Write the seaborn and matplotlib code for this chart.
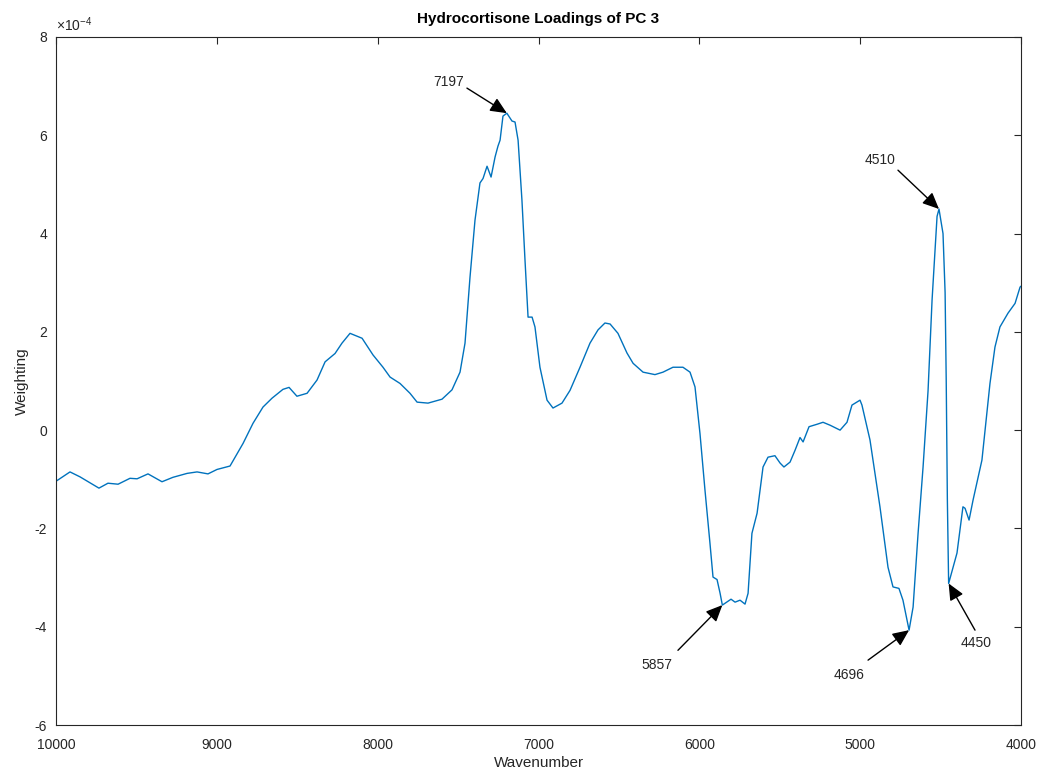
import numpy as np
import pandas as pd
import matplotlib
matplotlib.use('Agg')
import matplotlib.pyplot as plt
import seaborn as sns

# PC 3 loadings (weighting in units of 1e-4)
wavenumber = [10000, 9913, 9851, 9733, 9677, 9614, 9540, 9496, 9428, 9341,
              9273, 9185, 9123, 9055, 8999, 8918, 8837, 8775, 8713, 8657,
              8589, 8551, 8502, 8439, 8377, 8327, 8265, 8222, 8172, 8097,
              8029, 7967, 7923, 7861, 7799, 7755, 7687, 7600, 7538, 7488,
              7457, 7426, 7395, 7364, 7345, 7320, 7295, 7270, 7252, 7239,
              7221, 7197, 7165, 7146, 7127, 7103, 7084, 7065, 7040, 7022,
              6991, 6947, 6910, 6854, 6804, 6742, 6680, 6630, 6587, 6555,
              6506, 6450, 6412, 6350, 6276, 6226, 6164, 6102, 6058, 6027,
              5996, 5965, 5934, 5915, 5890, 5871, 5857, 5803, 5778, 5747,
              5716, 5697, 5673, 5641, 5604, 5573, 5530, 5498, 5474, 5436,
              5405, 5374, 5355, 5318, 5268, 5231, 5187, 5125, 5082, 5051,
              5001, 4989, 4939, 4877, 4827, 4796, 4759, 4734, 4696, 4671,
              4640, 4609, 4578, 4553, 4522, 4510, 4485, 4472, 4465, 4458,
              4450, 4398, 4361, 4348, 4323, 4298, 4243, 4193, 4162, 4131,
              4081, 4037, 4006, 4000]
weighting = [-1.04, -0.85, -0.95, -1.18, -1.08, -1.10, -0.98, -0.99, -0.89, -1.05,
             -0.96, -0.88, -0.85, -0.89, -0.80, -0.73, -0.27, 0.14, 0.47, 0.65,
             0.83, 0.87, 0.69, 0.75, 1.02, 1.39, 1.56, 1.77, 1.97, 1.87,
             1.53, 1.28, 1.08, 0.95, 0.75, 0.57, 0.55, 0.63, 0.82, 1.18,
             1.77, 3.11, 4.27, 5.03, 5.12, 5.37, 5.15, 5.56, 5.78, 5.90,
             6.39, 6.45, 6.29, 6.27, 5.90, 4.68, 3.46, 2.30, 2.30, 2.10,
             1.28, 0.61, 0.45, 0.55, 0.81, 1.28, 1.77, 2.04, 2.18, 2.16,
             1.97, 1.57, 1.36, 1.18, 1.13, 1.18, 1.28, 1.28, 1.18, 0.88,
             -0.07, -1.22, -2.30, -2.99, -3.04, -3.32, -3.56, -3.44, -3.50, -3.46,
             -3.54, -3.32, -2.10, -1.69, -0.75, -0.55, -0.52, -0.67, -0.75, -0.65,
             -0.41, -0.15, -0.24, 0.07, 0.12, 0.16, 0.10, 0.00, 0.16, 0.51,
             0.61, 0.51, -0.20, -1.56, -2.79, -3.19, -3.22, -3.46, -4.07, -3.60,
             -2.10, -0.75, 0.80, 2.65, 4.35, 4.50, 4.00, 2.80, 1.00, -1.40,
             -3.12, -2.50, -1.56, -1.59, -1.83, -1.42, -0.61, 0.95, 1.69, 2.10,
             2.38, 2.58, 2.91, 2.93]

# annotated peaks: label, peak, arrow tail, text centre
peak_labels = ['7197', '4510', '5857', '4696', '4450']
peak_x = [7197, 4510, 5857, 4696, 4450]
peak_y = [6.45, 4.50, -3.56, -4.07, -3.12]
tail_x = [7445, 4765, 6133, 4951, 4286]
tail_y = [6.96, 5.29, -4.48, -4.68, -4.07]
text_x = [7556, 4877, 6263, 5069, 4280]
text_y = [7.08, 5.49, -4.78, -4.99, -4.33]

df = pd.DataFrame({'Wavenumber': wavenumber, 'Weighting': np.array(weighting) * 1e-4})

sns.set_style('white')
plt.rcParams['font.family'] = ['Liberation Sans', 'DejaVu Sans']
plt.rcParams['mathtext.fontset'] = 'custom'
plt.rcParams['mathtext.rm'] = 'Liberation Sans'

dark = '#262626'
fig = plt.figure(figsize=(10.41, 7.74), dpi=100)
ax = fig.add_axes([0.0538, 0.0633, 0.927, 0.8889])

sns.lineplot(data=df, x='Wavenumber', y='Weighting', ax=ax, color='#0072BD',
             linewidth=1.0, estimator=None, sort=False)

ax.set_xlim(10000, 4000)
ax.set_ylim(-6e-4, 8e-4)
ax.set_xticks(np.arange(10000, 3999, -1000))
ax.set_yticks(np.arange(-6e-4, 8.1e-4, 2e-4))
ax.set_yticklabels([f'{v:g}' for v in np.arange(-6, 9, 2)])

for s in ax.spines.values():
    s.set_color(dark)
    s.set_linewidth(0.8)
ax.tick_params(direction='in', length=5, width=0.8, colors=dark, labelsize=10,
               top=True, right=True, labeltop=False, labelright=False)
ax.tick_params(axis='x', pad=9)
ax.tick_params(axis='y', pad=6.5)

ax.set_xlabel('Wavenumber', fontsize=11, color=dark, labelpad=3)
ax.set_ylabel('Weighting', fontsize=11, color=dark, labelpad=4)
ax.set_title('Hydrocortisone Loadings of PC 3', fontsize=11, fontweight='bold',
             color='black', pad=10)
ax.text(0.0, 1.004, r'$\times10^{-4}$', transform=ax.transAxes, fontsize=10,
        color=dark, ha='left', va='bottom')

for lab, px, py, tx, ty, lx, ly in zip(peak_labels, peak_x, peak_y, tail_x, tail_y,
                                         text_x, text_y):
    ax.annotate('', xy=(px, py * 1e-4), xytext=(tx, ty * 1e-4),
                arrowprops=dict(arrowstyle='-|>,head_length=1.0,head_width=0.45',
                                color='black', lw=1.0, shrinkA=0, shrinkB=0))
    ax.text(lx, ly * 1e-4, lab, fontsize=10, color=dark, ha='center', va='center')

fig.savefig('out.png', dpi=100)
